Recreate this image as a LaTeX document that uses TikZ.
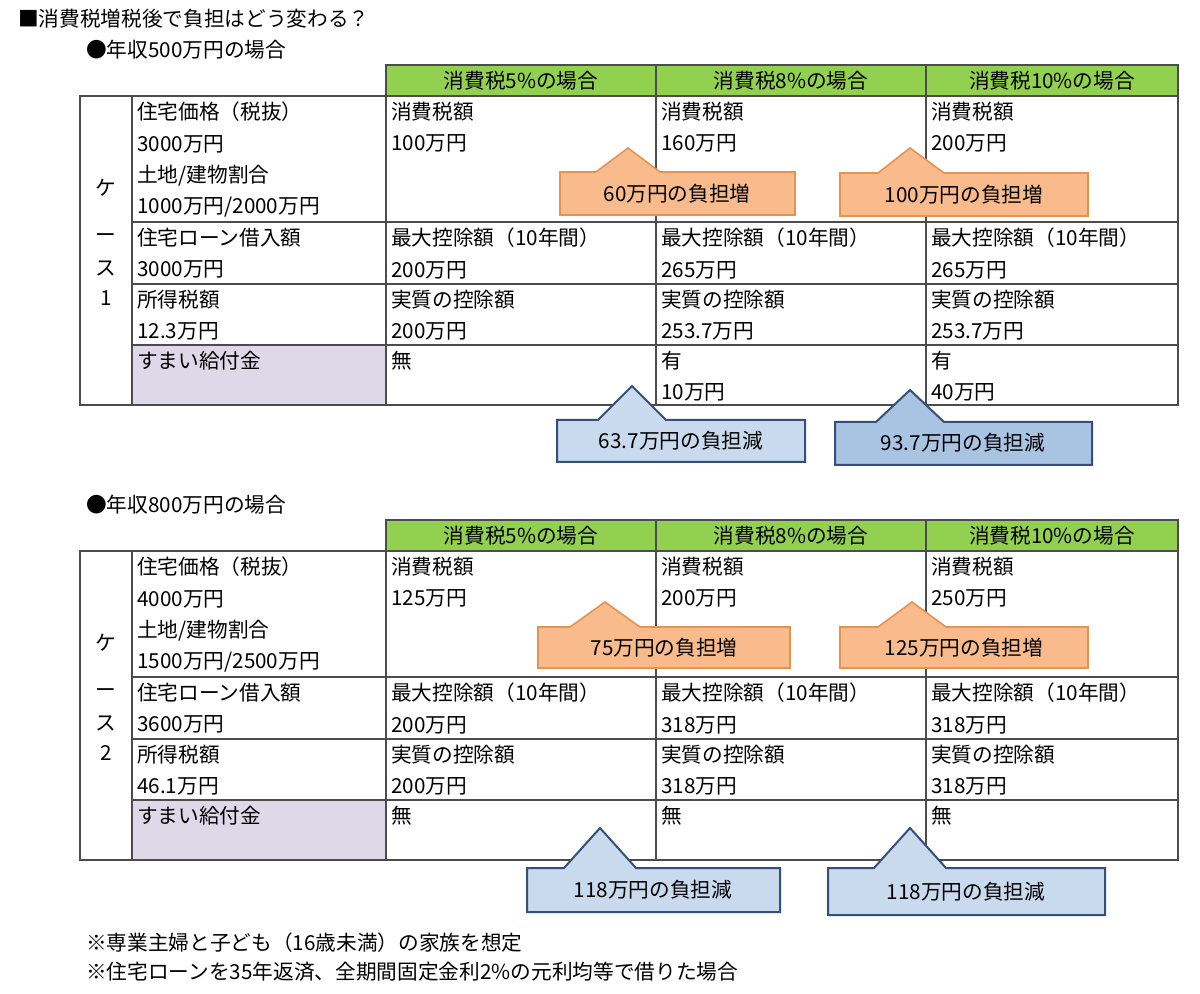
\documentclass[tikz,border=0pt]{standalone}
\usepackage{fontspec}
\setmainfont{Noto Sans CJK JP}
\definecolor{hgreen}{HTML}{92D050}
\definecolor{lav}{HTML}{DDD9E9}
\definecolor{ofill}{HTML}{F9BB8C}
\definecolor{odraw}{HTML}{E8924F}
\definecolor{bfill}{HTML}{C9DAEE}
\definecolor{bfill2}{HTML}{A9C3E2}
\definecolor{bdraw}{HTML}{34507A}
\begin{document}
\begin{tikzpicture}[x=0.75pt,y=-0.75pt,
  grid/.style={draw=black!70,line width=0.8pt},
  cell/.style={anchor=north west,align=left,inner sep=0pt,font=\fontsize{15.5}{23.3}\selectfont},
  hdr/.style={font=\fontsize{15.5}{17}\selectfont},
  orangeb/.style={fill=ofill,draw=odraw,line width=1.2pt},
  blueb/.style={fill=bfill,draw=bdraw,line width=1.5pt},
  blueb2/.style={fill=bfill2,draw=bdraw,line width=1.5pt},
  ctext/.style={font=\fontsize{15.5}{17}\selectfont},
  txt/.style={anchor=west,inner sep=0pt,font=\fontsize{15.5}{17}\selectfont}]
\useasboundingbox (0,0) rectangle (1200,994);
\fill[white] (0,0) rectangle (1200,994);
\node[txt] (title) at (18,19) {■消費税増税後で負担はどう変わる？};
\newcommand{\mycallout}[9]{%
  \draw[#1] (#2,#3) -- (#9,#3) -- (#6,#7) -- (#8,#3) -- (#4,#3) -- (#4,#5) -- (#2,#5) -- cycle;}
\newcommand{\mytable}[7]{%
\begin{scope}[yshift=#1*-0.75pt]
\node[txt] (sub#2) at (86,50) {●年収#3万円の場合};
\fill[hgreen] (386,65) rectangle (1178,96);
\fill[lav] (132,345) rectangle (386,405);
\draw[grid] (386,65) rectangle (1178,96);
\draw[grid] (656,65) -- (656,96) (926,65) -- (926,96);
\draw[grid] (80,96) rectangle (1178,405);
\draw[grid] (132,96) -- (132,405) (386,96) -- (386,405) (656,96) -- (656,405) (926,96) -- (926,405);
\draw[grid] (132,222) -- (1178,222) (132,284) -- (1178,284) (132,345) -- (1178,345);
\node[hdr] (h5#2) at (521,81) {消費税5\%の場合};
\node[hdr] (h8#2) at (791,81) {消費税8\%の場合};
\node[hdr] (h10#2) at (1052,81) {消費税10\%の場合};
\node[hdr] (k#2) at (106,188) {ケ};
\node[hdr] (ka#2) at (106,238) {ー};
\node[hdr] (kb#2) at (106,268) {ス};
\node[hdr] (kc#2) at (106,298) {#2};
\node[cell] (a#2) at (137,102) {住宅価格（税抜）\\#4万円\\土地/建物割合\\#5};
\node[cell] (b#2) at (137,228) {住宅ローン借入額\\#6万円};
\node[cell] (c#2) at (137,290) {所得税額\\#7万円};
\node[cell] (d#2) at (137,351) {すまい給付金};
\end{scope}}
% ---- table 1
\mytable{0}{1}{500}{3000}{1000万円/2000万円}{3000}{12.3}
\node[cell] (t11) at (391,102) {消費税額\\100万円};
\node[cell] (t12) at (661,102) {消費税額\\160万円};
\node[cell] (t13) at (931,102) {消費税額\\200万円};
\node[cell] (t21) at (391,228) {最大控除額（10年間）\\200万円};
\node[cell] (t22) at (661,228) {最大控除額（10年間）\\265万円};
\node[cell] (t23) at (931,228) {最大控除額（10年間）\\265万円};
\node[cell] (t31) at (391,290) {実質の控除額\\200万円};
\node[cell] (t32) at (661,290) {実質の控除額\\253.7万円};
\node[cell] (t33) at (931,290) {実質の控除額\\253.7万円};
\node[cell] (t41) at (391,351) {無};
\node[cell] (t42) at (661,351) {有\\10万円};
\node[cell] (t43) at (931,351) {有\\40万円};
\mycallout{orangeb}{560}{172}{795}{215}{628}{148}{660}{596}
\node[ctext] (o11) at (677,194) {60万円の負担増};
\mycallout{orangeb}{840}{173}{1088}{216}{910}{148}{944}{878}
\node[ctext] (o12) at (964,195) {100万円の負担増};
\mycallout{blueb}{557}{420}{805}{462}{632}{386}{666}{598}
\node[ctext] (b11) at (681,441) {63.7万円の負担減};
\mycallout{blueb2}{835}{422}{1092}{465}{910}{390}{944}{876}
\node[ctext] (b12) at (963,443) {93.7万円の負担減};
% ---- table 2
\mytable{455}{2}{800}{4000}{1500万円/2500万円}{3600}{46.1}
\begin{scope}[yshift=-341.25pt]
\node[cell] (s11) at (391,102) {消費税額\\125万円};
\node[cell] (s12) at (661,102) {消費税額\\200万円};
\node[cell] (s13) at (931,102) {消費税額\\250万円};
\node[cell] (s21) at (391,228) {最大控除額（10年間）\\200万円};
\node[cell] (s22) at (661,228) {最大控除額（10年間）\\318万円};
\node[cell] (s23) at (931,228) {最大控除額（10年間）\\318万円};
\node[cell] (s31) at (391,290) {実質の控除額\\200万円};
\node[cell] (s32) at (661,290) {実質の控除額\\318万円};
\node[cell] (s33) at (931,290) {実質の控除額\\318万円};
\node[cell] (s41) at (391,351) {無};
\node[cell] (s42) at (661,351) {無};
\node[cell] (s43) at (931,351) {無};
\mycallout{orangeb}{538}{172}{790}{213}{605}{147}{640}{570}
\node[ctext] (o21) at (664,193) {75万円の負担増};
\mycallout{orangeb}{840}{172}{1088}{213}{912}{147}{946}{878}
\node[ctext] (o22) at (964,193) {125万円の負担増};
\mycallout{blueb}{527}{413}{780}{457}{600}{373}{636}{564}
\node[ctext] (b21) at (653,435) {118万円の負担減};
\mycallout{blueb}{828}{413}{1105}{460}{910}{373}{946}{874}
\node[ctext] (b22) at (966,437) {118万円の負担減};
\end{scope}
\node[txt] (n1) at (86,943) {※専業主婦と子ども（16歳未満）の家族を想定};
\node[txt] (n2) at (86,972) {※住宅ローンを35年返済、全期間固定金利2\%の元利均等で借りた場合};
\end{tikzpicture}
\end{document}
